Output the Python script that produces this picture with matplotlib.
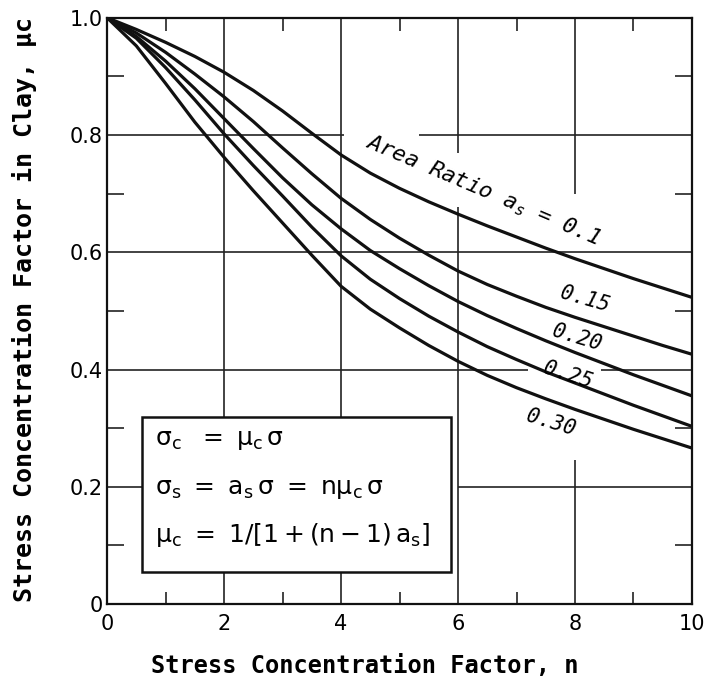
import matplotlib.pyplot as plt
from matplotlib.patches import Rectangle
from matplotlib.ticker import MultipleLocator

plt.rcParams['font.family'] = ['DejaVu Sans']
plt.rcParams['mathtext.fontset'] = 'dejavusans'
plt.rcParams['mathtext.default'] = 'regular'

#stress concentration factor n
n_values = [0, 0.5, 1, 1.5, 2, 2.5, 3, 3.5, 4, 4.5, 5,
            5.5, 6, 6.5, 7, 7.5, 8, 8.5, 9, 9.5, 10]

#mu_c for each area ratio
mu_010 = [1.000, 0.980, 0.958, 0.934, 0.907, 0.876, 0.841, 0.803, 0.766, 0.735, 0.709,
          0.686, 0.665, 0.645, 0.626, 0.607, 0.589, 0.572, 0.555, 0.539, 0.523]
mu_015 = [1.000, 0.974, 0.941, 0.904, 0.865, 0.823, 0.778, 0.734, 0.692, 0.656, 0.624,
          0.595, 0.568, 0.545, 0.525, 0.506, 0.489, 0.473, 0.457, 0.441, 0.426]
mu_020 = [1.000, 0.968, 0.926, 0.879, 0.828, 0.777, 0.727, 0.681, 0.640, 0.603, 0.572,
          0.543, 0.516, 0.492, 0.470, 0.449, 0.429, 0.410, 0.391, 0.373, 0.355]
mu_025 = [1.000, 0.965, 0.915, 0.860, 0.802, 0.748, 0.696, 0.643, 0.594, 0.554, 0.521,
          0.491, 0.464, 0.439, 0.417, 0.396, 0.377, 0.358, 0.339, 0.321, 0.303]
mu_030 = [1.000, 0.952, 0.888, 0.822, 0.762, 0.705, 0.650, 0.595, 0.542, 0.503, 0.471,
          0.441, 0.414, 0.390, 0.369, 0.350, 0.332, 0.315, 0.298, 0.282, 0.266]

curves = [mu_010, mu_015, mu_020, mu_025, mu_030]

#curve labels: text, x, y, angle
curve_labels = ["0.15", "0.20", "0.25", "0.30"]
label_x = [8.17, 8.03, 7.88, 7.58]
label_y = [0.52, 0.455, 0.39, 0.31]
label_rot = [-16, -17, -18, -17]

mono = "DejaVu Sans Mono"
ink = "#222222"

fig = plt.figure(figsize = (7.09, 6.81), dpi = 100)
ax = fig.add_axes([0.151, 0.113, 0.825, 0.861])
ax.set_xlim(0, 10)
ax.set_ylim(0, 1.0)

#grid lines (some are broken around the text)
ax.vlines([2, 4], 0, 1, color = ink, lw = 1.2, zorder = 1)
ax.vlines(6, 0, 0.677, color = ink, lw = 1.2, zorder = 1)
ax.vlines(6, 0.77, 1, color = ink, lw = 1.2, zorder = 1)
ax.vlines(8, 0, 0.246, color = ink, lw = 1.2, zorder = 1)
ax.vlines(8, 0.70, 1, color = ink, lw = 1.2, zorder = 1)
ax.hlines(0.8, 0, 4.05, color = ink, lw = 1.2, zorder = 1)
ax.hlines(0.8, 5.34, 10, color = ink, lw = 1.2, zorder = 1)
ax.hlines(0.6, 0, 10, color = ink, lw = 1.2, zorder = 1)
ax.hlines(0.4, 0, 7.2, color = ink, lw = 1.2, zorder = 1)
ax.hlines(0.4, 8.45, 10, color = ink, lw = 1.2, zorder = 1)
ax.hlines(0.2, 0, 0.6, color = ink, lw = 1.2, zorder = 1)
ax.hlines(0.2, 6, 10, color = ink, lw = 1.2, zorder = 1)

#curves
for mu in curves:
    ax.plot(n_values, mu, color = "#111111", lw = 2.3, zorder = 2,
            solid_joinstyle = "round")

ax.text(6.42, 0.705, r"Area Ratio $a_s$ = 0.1", rotation = -23,
        rotation_mode = "anchor", ha = "center", va = "center",
        fontsize = 16, family = mono, style = "italic")
for txt, lx, ly, rot in zip(curve_labels, label_x, label_y, label_rot):
    ax.text(lx, ly, txt, rotation = rot, rotation_mode = "anchor",
            ha = "center", va = "center", fontsize = 15, family = mono,
            style = "italic")

#equation box
ax.add_patch(Rectangle((0.6, 0.055), 5.28, 0.264, facecolor = "white",
                       edgecolor = "#111111", lw = 1.8, zorder = 3))
ax.text(0.82, 0.280, r"$\sigma_c\ \ =\ \mu_c\,\sigma$", fontsize = 18,
        va = "center", zorder = 4)
ax.text(0.82, 0.196, r"$\sigma_s\ =\ a_s\,\sigma\ =\ n\mu_c\,\sigma$", fontsize = 18,
        va = "center", zorder = 4)
ax.text(0.82, 0.117, r"$\mu_c\ =\ 1/\left[1+(n-1)\,a_s\right]$", fontsize = 18,
        va = "center", zorder = 4)

#ticks
ax.set_xticks([0, 2, 4, 6, 8, 10])
ax.set_yticks([0, 0.2, 0.4, 0.6, 0.8, 1.0])
ax.set_yticklabels(["0", "0.2", "0.4", "0.6", "0.8", "1.0"])
ax.xaxis.set_minor_locator(MultipleLocator(1))
ax.yaxis.set_minor_locator(MultipleLocator(0.1))
ax.tick_params(which = "major", length = 0)
ax.tick_params(axis = "x", which = "major", labelsize = 15, pad = 7)
ax.tick_params(axis = "y", which = "major", labelsize = 15, pad = 3)
ax.tick_params(axis = "x", which = "minor", direction = "in", length = 9,
               width = 1.2, top = True, color = ink)
ax.tick_params(axis = "y", which = "minor", direction = "in", length = 12,
               width = 1.2, right = True, color = ink)

for side in ax.spines.values():
    side.set_linewidth(1.6)
    side.set_color("#111111")

ax.text(0.44, -0.106, "Stress Concentration Factor, n", transform = ax.transAxes,
        ha = "center", va = "center", fontsize = 17, family = mono,
        fontweight = "bold")
ax.text(-0.141, 0.503, "Stress Concentration Factor in Clay, μc", transform = ax.transAxes,
        ha = "center", va = "center", rotation = 90, fontsize = 18, family = mono,
        fontweight = "bold")

plt.savefig("out.png", dpi = 100)
